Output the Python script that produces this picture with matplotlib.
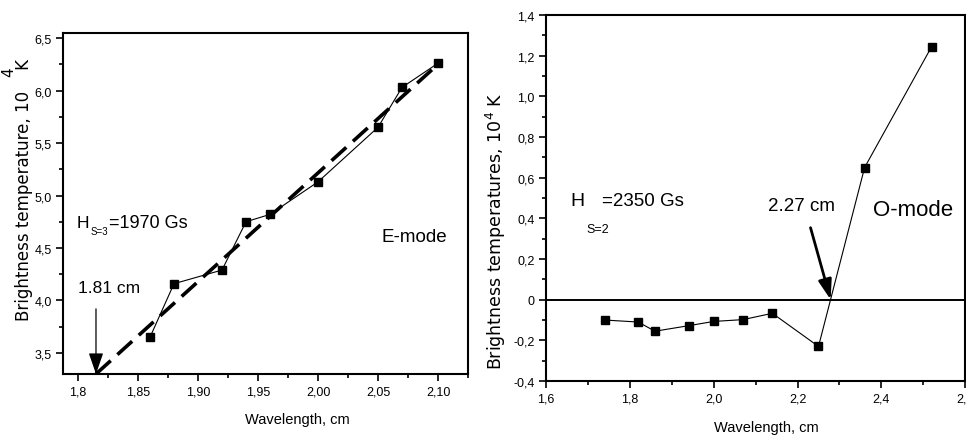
import numpy as np
import matplotlib
matplotlib.use("Agg")
from matplotlib import pyplot as plt
from matplotlib.ticker import FixedLocator, FixedFormatter, MultipleLocator

# E-mode data (left panel)
wl_e = [1.86, 1.88, 1.92, 1.94, 1.96, 2.00, 2.05, 2.07, 2.10]
tb_e = [3.65, 4.16, 4.29, 4.75, 4.82, 5.13, 5.65, 6.03, 6.26]
fit_e_x = [1.815, 2.10]
fit_e_y = [3.30, 6.25]

# O-mode data (right panel)
wl_o = [1.74, 1.82, 1.86, 1.94, 2.00, 2.07, 2.14, 2.25, 2.36, 2.52]
tb_o = [-0.10, -0.11, -0.155, -0.128, -0.107, -0.098, -0.067, -0.23, 0.65, 1.245]

# tick values / labels
e_xticks = [1.80, 1.85, 1.90, 1.95, 2.00, 2.05, 2.10]
e_xlabels = ["1,8", "1,85", "1,90", "1,95", "2,00", "2,05", "2,10"]
e_yticks = [3.5, 4.0, 4.5, 5.0, 5.5, 6.0, 6.5]
e_ylabels = ["3,5", "4,0", "4,5", "5,0", "5,5", "6,0", "6,5"]
o_xticks = [1.6, 1.8, 2.0, 2.2, 2.4, 2.6]
o_xlabels = ["1,6", "1,8", "2,0", "2,2", "2,4", "2,6"]
o_yticks = [-0.4, -0.2, 0.0, 0.2, 0.4, 0.6, 0.8, 1.0, 1.2, 1.4]
o_ylabels = ["-0,4", "-0,2", "0", "0,2", "0,4", "0,6", "0,8", "1,0", "1,2", "1,4"]

plt.rcParams["font.family"] = ["Liberation Sans", "DejaVu Sans"]

fig = plt.figure(figsize=(9.66, 4.39), dpi=100)


def style_axes(ax, xt, xl, yt, yl, xminor, yminor):
    ax.xaxis.set_major_locator(FixedLocator(xt))
    ax.xaxis.set_major_formatter(FixedFormatter(xl))
    ax.yaxis.set_major_locator(FixedLocator(yt))
    ax.yaxis.set_major_formatter(FixedFormatter(yl))
    ax.xaxis.set_minor_locator(MultipleLocator(xminor))
    ax.yaxis.set_minor_locator(MultipleLocator(yminor))
    ax.tick_params(which="both", direction="out", width=1.2)
    ax.tick_params(which="major", length=5, labelsize=9, pad=3)
    ax.tick_params(which="minor", length=3)
    for s in ax.spines.values():
        s.set_linewidth(1.5)


# ---- left panel: E-mode
ax1 = fig.add_axes([0.0652, 0.1458, 0.4193, 0.7768])
ax1.plot(fit_e_x, fit_e_y, color="black", lw=2.6, dashes=(5.5, 2.5))
ax1.plot(wl_e, tb_e, color="black", lw=0.8, marker="s", ms=5.5)
ax1.set_xlim(1.7875, 2.125)
ax1.set_ylim(3.3, 6.548)
style_axes(ax1, e_xticks, e_xlabels, e_yticks, e_ylabels, 0.025, 0.25)

ax1.text(1.799, 4.70, "H", fontsize=12.5)
ax1.text(1.8105, 4.63, "S=3", fontsize=7)
ax1.text(1.8255, 4.70, "=1970 Gs", fontsize=13)
ax1.text(1.800, 4.08, "1.81 cm", fontsize=12.5)
ax1.text(2.053, 4.567, "E-mode", fontsize=13.5)
ax1.annotate("", xy=(1.815, 3.3), xytext=(1.815, 3.92),
             arrowprops=dict(arrowstyle="-|>,head_length=1.3,head_width=0.45",
                             color="black", lw=0.9, shrinkA=0, shrinkB=0))

# ---- right panel: O-mode
ax2 = fig.add_axes([0.5652, 0.1298, 0.4340, 0.8337])
ax2.axhline(0, color="black", lw=1.4)
ax2.plot(wl_o, tb_o, color="black", lw=0.8, marker="s", ms=5.5)
ax2.set_xlim(1.6, 2.6)
ax2.set_ylim(-0.4, 1.4)
style_axes(ax2, o_xticks, o_xlabels, o_yticks, o_ylabels, 0.1, 0.1)

ax2.text(1.657, 0.467, "H", fontsize=14)
ax2.text(1.696, 0.335, "S=2", fontsize=9)
ax2.text(1.733, 0.467, "=2350 Gs", fontsize=13.5)
ax2.text(2.129, 0.442, "2.27 cm", fontsize=13.5)
ax2.text(2.381, 0.418, "O-mode", fontsize=16)
ax2.annotate("", xy=(2.279, 0.0), xytext=(2.231, 0.354),
             arrowprops=dict(arrowstyle="-|>,head_length=1.2,head_width=0.4",
                             color="black", lw=2.0, shrinkA=0, shrinkB=0))

# ---- axis titles
fig.text(24 / 966, 1 - 190 / 439, "Brightness temperature, 10    K",
         rotation=90, ha="center", va="center", fontsize=12, family="DejaVu Sans")
fig.text(9 / 966, 1 - 72 / 439, "4", rotation=90, ha="center", va="center",
         fontsize=11, family="DejaVu Sans")
fig.text(297 / 966, 1 - 420 / 439, "Wavelength, cm", ha="center", va="center",
         fontsize=10.5)

fig.text(496 / 966, 1 - 231 / 439, r"Brightness temperatures, 10$^4$ K",
         rotation=90, ha="center", va="center", fontsize=12.5, family="DejaVu Sans")
fig.text(766 / 966, 1 - 428 / 439, "Wavelength, cm", ha="center", va="center",
         fontsize=10.5)

fig.savefig("out.png", dpi=100)
